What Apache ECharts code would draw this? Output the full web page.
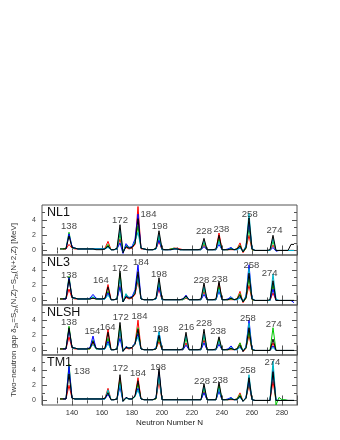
<!DOCTYPE html>
<html><head><meta charset="utf-8">
<script src="https://cdn.jsdelivr.net/npm/echarts@6/dist/echarts.min.js"></script>
<style>html,body{margin:0;padding:0;background:#fff}#c{width:340px;height:440px}</style>
</head><body><div id="c"></div>
<script>
// Neutron numbers N (even)
const N = [132,134,136,138,140,142,144,146,148,150,
152,154,156,158,160,162,164,166,168,170,
172,174,176,178,180,182,184,186,188,190,
192,194,196,198,200,202,204,206,208,210,
212,214,216,218,220,222,224,226,228,230,
232,234,236,238,240,242,244,246,248,250,
252,254,256,258,260,262,264,266,268,270,
272,274,276,278,280,282,284,286,288];

const panelNames = ['NL1','NL3','NLSH','TM1'];
const chainNames = ['red chain','green chain','blue chain','cyan chain','black chain'];

// ---- NL1 ----
const nl1Black = [0.2,0.2,0.2,1.9,0.4,0.3,0.2,0.2,0.2,0.2,
0.2,0.2,0.1,0.1,0.1,0.2,0.6,0.1,0.1,0.3,
3.4,-0.3,0.5,0.3,0.4,0.9,4.2,0.3,0.2,0.1,
0.1,0.1,0.3,2.6,0.2,0.1,0.1,0.1,0.2,0.2,
0.1,0.1,0.1,0.1,0.1,0.1,0.1,0.2,1.6,0.1,
0.1,0.1,0.2,2.0,0.1,0.1,0.1,0.2,0.1,0.2,
0.6,-0.2,0.4,4.3,0.2,0.0,0.0,0.0,0.0,0.0,
0.1,2.0,0.0,0.0,0.0,0.0,0.0,0.8,0.8];
const nl1Red = [null,0.2,0.2,0.8,0.3,0.2,0.2,0.2,0.2,0.2,
0.2,0.2,0.2,0.2,0.2,0.3,1.2,0.1,0.1,0.2,
1.5,-0.1,0.4,0.2,0.3,0.8,5.8,0.2,0.2,0.1,
0.1,0.1,0.2,1.2,0.1,0.1,0.1,0.2,0.3,0.3,
0.2,0.1,0.1,0.1,0.1,0.1,0.1,0.1,0.7,0.1,
0.1,0.1,0.1,2.3,0.1,0.1,0.1,0.1,0.1,0.2,
1.0,-0.3,0.3,2.0,0.1,0.0,0.0,0.0,0.0,0.0,
0.0,0.7,0.0,0.0,0.0,0.0,0.0,0.0,0.0];
const nl1Green = [0.2,0.2,0.3,2.4,0.4,0.3,0.2,0.2,0.2,0.2,
0.2,0.2,0.2,0.2,0.2,0.2,0.8,0.1,0.1,0.2,
2.2,-0.2,0.7,0.3,0.4,1.0,3.2,0.3,0.2,0.1,
0.1,0.1,0.2,1.8,0.1,0.1,0.1,0.2,0.3,0.2,
0.1,0.1,0.1,0.1,0.1,0.1,0.1,0.1,1.0,0.1,
0.1,0.1,0.1,1.5,0.1,0.1,0.1,0.2,0.1,0.2,
0.7,-0.2,0.3,3.0,0.1,0.0,0.0,0.0,0.0,0.0,
0.0,1.2,0.0,0.0,0.0,0.0,0.0,0.0,0.0];
const nl1Blue = [null,null,0.2,2.2,0.5,0.3,0.2,0.2,0.2,0.2,
0.2,0.2,0.2,0.2,0.2,0.2,0.5,0.1,0.1,0.2,
1.0,-0.4,0.9,0.4,0.5,1.5,4.8,0.3,0.2,0.1,
0.1,0.1,0.2,1.4,0.1,0.1,0.1,0.1,0.2,0.2,
0.1,0.1,0.1,0.1,0.1,0.1,0.1,0.1,0.5,0.1,
0.1,0.1,0.1,0.8,0.1,0.1,0.2,0.4,0.1,0.1,
0.4,-0.1,0.5,3.8,0.2,0.0,0.0,0.0,0.0,0.0,
0.0,0.4,-0.1,0.0,0.0,0.0,0.0,0.0,0.0];
const nl1Cyan = [null,null,null,null,0.3,0.3,0.2,0.2,0.2,0.2,
0.2,0.2,0.2,0.2,0.2,0.2,0.4,0.1,0.1,0.2,
2.8,-0.2,0.6,0.3,0.4,1.2,2.4,0.3,0.2,0.1,
0.1,0.1,0.2,2.1,0.1,0.1,0.1,0.1,0.2,0.2,
0.1,0.1,0.1,0.1,0.1,0.1,0.1,0.1,1.3,0.1,
0.1,0.1,0.1,1.2,0.1,0.1,0.1,0.3,0.1,0.1,
0.3,-0.1,0.6,4.9,0.3,0.0,0.0,0.0,0.0,0.0,
0.0,1.6,0.0,0.0,0.0,0.0,0.0,0.0,0.0];

// ---- NL3 ----
const nl3Black = [0.2,0.2,0.2,2.8,0.4,0.3,0.2,0.2,0.2,0.2,
0.2,0.3,0.2,0.2,0.2,0.3,1.8,0.1,0.1,0.2,
3.9,-0.2,0.5,0.3,0.4,0.9,3.8,0.2,0.1,0.1,
0.1,0.1,0.3,3.0,0.2,0.1,0.1,0.1,0.1,0.1,
0.1,0.2,0.6,0.1,0.1,0.1,0.1,0.2,2.3,0.1,
0.1,0.1,0.2,2.5,0.1,0.1,0.1,0.3,0.1,0.2,
0.7,-0.2,0.4,3.6,0.2,0.0,0.0,0.0,0.0,0.0,
0.1,2.6,0.0,0.0,0.0,0.0,0.0,0.0,0.0];
const nl3Red = [0.2,0.2,0.2,1.5,0.3,0.2,0.2,0.2,0.2,0.2,
0.2,0.3,0.2,0.2,0.2,0.3,2.1,0.1,0.1,0.2,
2.0,-0.1,0.4,0.2,0.3,0.8,2.6,0.2,0.1,0.1,
0.1,0.1,0.2,1.5,0.1,0.1,0.1,0.1,0.1,0.1,
0.1,0.1,0.3,0.1,0.1,0.1,0.1,0.1,1.2,0.1,
0.1,0.1,0.1,2.3,0.1,0.1,0.1,0.1,0.1,0.2,
1.2,-0.3,0.3,2.0,0.1,0.0,0.0,0.0,0.0,0.0,
0.0,1.0,0.0,0.0,0.0,0.0,0.0,0.0,0.0];
const nl3Green = [0.2,0.2,0.3,3.2,0.4,0.3,0.2,0.2,0.2,0.2,
0.2,0.4,0.2,0.2,0.2,0.2,1.2,0.1,0.1,0.2,
3.6,-0.2,0.8,0.3,0.4,1.0,3.2,0.2,0.1,0.1,
0.1,0.1,0.2,2.2,0.1,0.1,0.1,0.1,0.1,0.1,
0.1,0.1,0.4,0.1,0.1,0.1,0.1,0.1,1.6,0.1,
0.1,0.1,0.1,1.8,0.1,0.1,0.1,0.2,0.1,0.2,
0.9,-0.2,0.3,3.0,0.1,0.0,0.0,0.0,0.0,0.0,
0.0,2.0,0.0,0.0,0.0,0.0,0.0,0.0,0.0];
const nl3Blue = [null,0.2,0.2,3.0,0.4,0.3,0.2,0.2,0.2,0.2,
0.3,0.8,0.3,0.2,0.2,0.2,1.0,0.1,0.1,0.2,
1.8,-0.2,0.6,0.4,0.5,1.4,4.7,0.2,0.1,0.1,
0.1,0.1,0.2,1.8,0.1,0.1,0.1,0.1,0.1,0.1,
0.1,0.2,0.7,0.1,0.1,0.1,0.1,0.1,0.8,0.1,
0.1,0.1,0.1,1.2,0.1,0.1,0.2,0.5,0.1,0.1,
0.5,-0.1,0.5,4.7,0.2,0.0,0.0,0.0,0.0,0.0,
0.0,1.5,0.0,0.0,0.0,0.0,0.0,0.0,-0.3];
const nl3Cyan = [null,null,null,null,0.3,0.3,0.2,0.2,0.2,0.2,
0.2,0.5,0.2,0.2,0.2,0.2,0.7,0.1,0.1,0.2,
2.8,-0.2,0.9,0.3,0.4,1.1,3.0,0.2,0.1,0.1,
0.1,0.1,0.2,2.5,0.1,0.1,0.1,0.1,0.1,0.1,
0.1,0.1,0.5,0.1,0.1,0.1,0.1,0.1,1.8,0.1,
0.1,0.1,0.1,1.5,0.1,0.1,0.1,0.4,0.1,0.1,
0.3,-0.1,0.6,4.2,0.3,0.0,0.0,0.0,0.0,0.0,
0.0,3.5,0.2,0.0,0.0,0.0,0.0,0.0,0.0];

// ---- NLSH ----
const nlshBlack = [0.2,0.2,0.2,3.0,0.4,0.3,0.2,0.2,0.2,0.2,
0.3,1.2,0.3,0.2,0.2,0.3,2.4,0.1,0.1,0.2,
3.7,-0.1,0.4,0.3,0.4,0.8,2.8,0.2,0.1,0.1,
0.1,0.1,0.2,2.0,0.1,0.1,0.1,0.1,0.1,0.1,
0.1,0.2,2.4,0.1,0.1,0.1,0.1,0.2,2.8,0.1,
0.1,0.1,0.2,1.8,0.1,0.1,0.1,0.3,0.1,0.2,
0.7,-0.1,0.4,3.0,0.1,0.0,0.0,0.0,0.0,0.0,
0.0,1.5,0.0,0.0,0.0,0.0,0.0,0.0,0.0];
const nlshRed = [0.2,0.2,0.2,1.8,0.3,0.2,0.2,0.2,0.2,0.2,
0.2,1.0,0.2,0.2,0.2,0.3,2.8,0.1,0.1,0.2,
2.4,-0.1,0.3,0.2,0.3,0.9,4.0,0.2,0.1,0.1,
0.1,0.1,0.2,1.2,0.1,0.1,0.1,0.1,0.1,0.1,
0.1,0.1,1.0,0.1,0.1,0.1,0.1,0.1,1.4,0.1,
0.1,0.1,0.1,1.0,0.1,0.1,0.1,0.1,0.1,0.2,
1.0,-0.2,0.3,2.0,0.1,0.0,0.0,0.0,0.0,0.0,
0.0,1.0,0.0,0.0,0.0,0.0,0.0,0.0,0.0];
const nlshGreen = [0.2,0.2,0.3,3.2,0.4,0.3,0.2,0.2,0.2,0.2,
0.2,1.4,0.2,0.2,0.2,0.2,1.6,0.1,0.1,0.2,
3.3,-0.1,0.5,0.3,0.4,0.9,3.0,0.2,0.1,0.1,
0.1,0.1,0.2,1.6,0.1,0.1,0.1,0.1,0.1,0.1,
0.1,0.1,1.6,0.1,0.1,0.1,0.1,0.1,2.0,0.1,
0.1,0.1,0.1,1.5,0.1,0.1,0.1,0.2,0.1,0.2,
1.0,-0.1,0.3,2.5,0.1,0.0,0.0,0.0,0.0,0.0,
0.0,3.0,0.0,0.0,0.0,0.0,0.0,0.0,0.0];
const nlshBlue = [null,0.2,0.2,2.8,0.4,0.3,0.2,0.2,0.2,0.2,
0.4,1.9,0.3,0.2,0.2,0.2,1.2,0.1,0.1,0.2,
1.6,-0.1,0.5,0.3,0.4,1.0,2.2,0.2,0.1,0.1,
0.1,0.1,0.3,2.4,0.1,0.1,0.1,0.1,0.1,0.1,
0.1,0.1,0.7,0.1,0.1,0.1,0.1,0.1,1.0,0.1,
0.1,0.1,0.1,0.8,0.1,0.1,0.2,0.6,0.1,0.1,
0.5,-0.1,0.5,4.0,0.2,0.0,0.0,0.0,0.0,0.0,
0.0,0.6,0.0,0.0,0.0,0.0,0.0,0.0,0.0];
const nlshCyan = [null,null,null,null,0.3,0.3,0.2,0.2,0.2,0.2,
0.3,0.8,0.2,0.2,0.2,0.2,0.9,0.1,0.1,0.2,
2.6,-0.1,0.4,0.3,0.4,0.9,1.8,0.2,0.1,0.1,
0.1,0.1,0.3,2.5,0.1,0.1,0.1,0.1,0.1,0.1,
0.1,0.2,2.0,0.1,0.1,0.1,0.1,0.1,2.2,0.1,
0.1,0.1,0.1,1.2,0.1,0.1,0.1,0.4,0.1,0.1,
0.4,-0.1,0.5,3.6,0.2,0.0,0.0,0.0,0.0,0.0,
0.0,0.4,0.0,0.0,0.0,0.0,0.0,0.0,0.0];

// ---- TM1 ----
const tm1Black = [0.2,0.2,0.2,3.5,0.3,0.2,0.2,0.2,0.2,0.2,
0.2,0.2,0.2,0.2,0.2,0.3,1.0,0.1,0.1,0.2,
3.4,-0.1,0.4,0.2,0.2,0.6,2.6,0.2,0.1,0.1,
0.1,0.1,0.3,4.2,0.1,0.1,0.1,0.1,0.1,0.1,
0.1,0.1,0.1,0.1,0.1,0.1,0.1,0.1,2.2,0.1,
0.1,0.1,0.1,2.4,0.1,0.1,0.1,0.2,0.1,0.1,
0.6,-0.1,0.3,3.0,0.1,0.0,0.0,0.0,0.0,0.0,
0.0,3.8,0.0,0.0,0.0,0.0,0.0,0.0,0.0];
const tm1Red = [0.2,0.2,0.2,2.0,0.3,0.2,0.2,0.2,0.2,0.2,
0.2,0.2,0.2,0.2,0.2,0.3,1.6,0.1,0.1,0.2,
3.0,-0.1,0.3,0.2,0.2,0.6,3.0,0.2,0.1,0.1,
0.1,0.1,0.2,2.5,0.1,0.1,0.1,0.1,0.1,0.1,
0.1,0.1,0.1,0.1,0.1,0.1,0.1,0.1,1.2,0.1,
0.1,0.1,0.1,1.5,0.1,0.1,0.1,0.1,0.1,0.2,
1.0,-0.1,0.3,2.0,0.1,0.0,0.0,0.0,0.0,0.0,
0.0,2.5,0.0,0.0,0.0,0.0,0.0,0.0,0.0];
const tm1Green = [0.2,0.2,0.2,4.8,0.3,0.2,0.2,0.2,0.2,0.2,
0.2,0.2,0.2,0.2,0.2,0.2,1.2,0.1,0.1,0.2,
2.5,-0.1,0.3,0.2,0.2,0.5,2.2,0.2,0.1,0.1,
0.1,0.1,0.2,3.5,0.1,0.1,0.1,0.1,0.1,0.1,
0.1,0.1,0.1,0.1,0.1,0.1,0.1,0.1,1.6,0.1,
0.1,0.1,0.1,2.0,0.1,0.1,0.1,0.2,0.1,0.2,
0.8,-0.1,0.3,2.4,0.1,0.0,0.0,0.0,0.0,0.0,
0.0,4.5,-0.6,0.4,0.1,0.1,0.0,0.0,0.0];
const tm1Blue = [null,0.2,0.2,4.5,0.3,0.2,0.2,0.2,0.2,0.2,
0.2,0.2,0.2,0.2,0.2,0.2,0.8,0.1,0.1,0.2,
1.8,-0.1,0.4,0.2,0.2,0.6,1.6,0.2,0.1,0.1,
0.1,0.1,0.3,3.8,0.1,0.1,0.1,0.1,0.1,0.1,
0.1,0.1,0.1,0.1,0.1,0.1,0.1,0.1,1.0,0.1,
0.1,0.1,0.1,1.2,0.1,0.1,0.2,0.4,0.1,0.1,
0.5,-0.1,0.4,2.6,0.1,0.0,0.0,0.0,0.0,0.0,
0.0,4.0,0.0,0.0,0.0,0.0,0.0,0.0,0.0];
const tm1Cyan = [null,null,null,null,0.3,0.2,0.2,0.2,0.2,0.2,
0.2,0.2,0.2,0.2,0.2,0.2,1.4,0.1,0.1,0.2,
2.2,-0.1,0.3,0.2,0.2,0.5,1.4,0.2,0.1,0.1,
0.1,0.1,0.3,3.2,0.1,0.1,0.1,0.1,0.1,0.1,
0.1,0.1,0.1,0.1,0.1,0.1,0.1,0.1,1.9,0.1,
0.1,0.1,0.1,1.6,0.1,0.1,0.1,0.3,0.1,0.1,
0.4,-0.1,0.4,3.4,0.1,0.0,0.0,0.0,0.0,0.0,
0.0,5.2,0.1,0.0,0.0,0.0,0.0,0.0,0.0];

// magic-number annotations (text) per panel
const nl1Magic = ['138','172','184','198','228','238','258','274'];
const nl3Magic = ['138','164','172','184','198','228','238','258','274'];
const nlshMagic = ['138','154','164','172','184','198','216','228','238','258','274'];
const tm1Magic = ['138','172','184','198','228','238','258','274'];

// x tick labels
const xTickLabels = [140,160,180,200,220,240,260,280];
const yTickLabels = [0,2,4];

// ---- layout (annotation anchor positions in data coordinates) ----
const nl1MagicX = [138,172,191,198.5,228,239.6,258.5,275];
const nl1MagicY = [3.2,4.0,4.7,3.2,2.5,2.8,4.7,2.7];
const nl3MagicX = [138,159.3,172,186,198,226.3,238.5,259.6,271.8];
const nl3MagicY = [3.35,2.7,4.3,5.0,3.5,2.7,2.8,4.6,3.6];
const nlshMagicX = [138,153.6,163.8,172.5,185,199,216.3,228,237.4,257.3,274.5];
const nlshMagicY = [3.65,2.5,3.1,4.4,4.5,2.8,3.05,3.6,2.5,4.2,3.5];
const tm1MagicX = [146.7,172.3,184,197.4,226.7,238.8,257.3,273.6];
const tm1MagicY = [3.8,4.2,3.6,4.4,2.5,2.6,4.0,5.0];

const panels = [
  {name: panelNames[0], series:[nl1Red,nl1Green,nl1Blue,nl1Cyan,nl1Black], magic:nl1Magic, mx:nl1MagicX, my:nl1MagicY},
  {name: panelNames[1], series:[nl3Red,nl3Green,nl3Blue,nl3Cyan,nl3Black], magic:nl3Magic, mx:nl3MagicX, my:nl3MagicY},
  {name: panelNames[2], series:[nlshRed,nlshGreen,nlshBlue,nlshCyan,nlshBlack], magic:nlshMagic, mx:nlshMagicX, my:nlshMagicY},
  {name: panelNames[3], series:[tm1Red,tm1Green,tm1Blue,tm1Cyan,tm1Black], magic:tm1Magic, mx:tm1MagicX, my:tm1MagicY}
];
const colors = ['#ff0000','#00c800','#0000ff','#00b4c8','#000000'];

const FONT = 'Liberation Sans, Arial, sans-serif';
const GL = 42, GW = 255, GT = 205, GH = 50;
const AX = '#555';

const grid = [], xAxis = [], yAxis = [], series = [], graphic = [];
panels.forEach((p, i) => {
  grid.push({left: GL, width: GW, top: GT + i*GH, height: GH, show: true, borderColor: AX, borderWidth: 1, backgroundColor: 'transparent'});
  const last = i === panels.length - 1;
  const xBase = {
    type: 'value', gridIndex: i, min: 120, max: 290, interval: 20,
    axisLine: {show: false},
    axisTick: {show: true, inside: true, length: 5, lineStyle: {color: AX}},
    minorTick: {show: true, splitNumber: 2, length: 3, lineStyle: {color: AX}},
    splitLine: {show: false}, minorSplitLine: {show: false}
  };
  xAxis.push(Object.assign({}, xBase, {
    position: 'bottom',
    axisLabel: {show: last, color: '#333', fontSize: 7.5, fontFamily: FONT, margin: 4,
      formatter: v => xTickLabels.indexOf(v) >= 0 ? String(v) : ''},
    name: last ? 'Neutron Number N' : '', nameLocation: 'middle', nameGap: 14,
    nameTextStyle: {fontSize: 8, color: '#222', fontFamily: FONT}
  }));
  xAxis.push(Object.assign({}, xBase, {position: 'top', axisLabel: {show: false}}));
  const yBase = {type: 'value', gridIndex: i, min: -0.6, max: 6,
    axisLine: {show: false}, splitLine: {show: false}};
  yAxis.push(Object.assign({}, yBase, {position: 'left',
    axisTick: {show: true, inside: true, length: 5, customValues: yTickLabels, lineStyle: {color: AX}},
    axisLabel: {show: true, customValues: yTickLabels, color: '#444', fontSize: 7, fontFamily: FONT, margin: 6}}));
  yAxis.push(Object.assign({}, yBase, {position: 'left',
    axisTick: {show: true, inside: true, length: 3, customValues: [1,3,5], lineStyle: {color: AX}},
    axisLabel: {show: false}}));
  yAxis.push(Object.assign({}, yBase, {position: 'right',
    axisTick: {show: true, inside: true, length: 5, customValues: yTickLabels, lineStyle: {color: AX}},
    axisLabel: {show: false}}));
  yAxis.push(Object.assign({}, yBase, {position: 'right',
    axisTick: {show: true, inside: true, length: 3, customValues: [1,3,5], lineStyle: {color: AX}},
    axisLabel: {show: false}}));

  p.series.forEach((vals, k) => {
    series.push({
      type: 'line', name: p.name + ' ' + chainNames[k], xAxisIndex: i*2, yAxisIndex: i*4,
      data: N.map((n, j) => [n, vals[j]]),
      symbol: 'none', clip: true, connectNulls: false,
      lineStyle: {width: 1, color: colors[k]}, itemStyle: {color: colors[k]},
      z: 2 + k, silent: true, animation: false
    });
  });
  series.push({
    type: 'scatter', xAxisIndex: i*2, yAxisIndex: i*4, symbolSize: 0, silent: true, animation: false, z: 20,
    data: p.magic.map((t, j) => ({value: [p.mx[j], p.my[j]], name: t})),
    label: {show: true, position: 'inside', formatter: d => d.name, fontSize: 9.5, color: '#111', fontFamily: FONT}
  });
  graphic.push({type: 'text', left: GL + 5, top: GT + i*GH + 1, z: 30,
    style: {text: p.name, fontSize: 12.5, fill: '#111', fontFamily: FONT}});
});

graphic.push({
  type: 'text', x: 14, y: 310, rotation: Math.PI/2, z: 30,
  style: {
    text: 'Two\u2212neutron gap \u03b4{s|2n}=S{s|2n}(N,Z)\u2212S{s|2n}(N+2,Z) [MeV]',
    fontSize: 8, fill: '#333', fontFamily: FONT, align: 'center', verticalAlign: 'middle',
    rich: {s: {fontSize: 5, fill: '#333', fontFamily: FONT, padding: [5, 0, 0, 0]}}
  }
});

const chart = echarts.init(document.getElementById('c'), null, {renderer: 'canvas'});
chart.setOption({animation: false, backgroundColor: '#fff', grid, xAxis, yAxis, series, graphic});
</script></body></html>
